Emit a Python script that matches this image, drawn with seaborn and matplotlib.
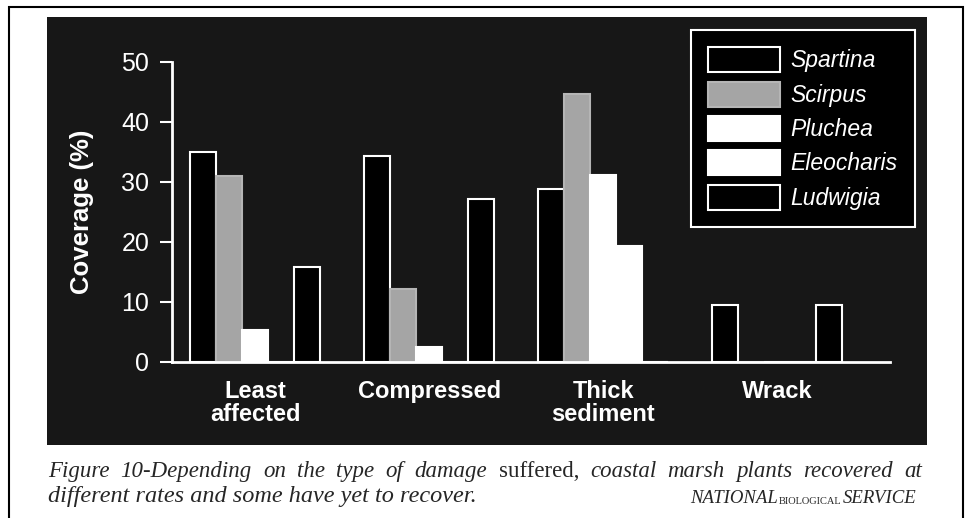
import pandas as pd
import seaborn as sns
import matplotlib.pyplot as plt
from matplotlib.patches import Rectangle, Patch

# values (coverage, %)
damage = ["Least\naffected", "Compressed", "Thick\nsediment", "Wrack"]
species = ["Spartina", "Scirpus", "Pluchea", "Eleocharis", "Ludwigia"]
spartina = [35.0, 34.3, 28.7, 9.5]
scirpus = [30.9, 12.1, 44.6, 0.0]
pluchea = [5.2, 2.4, 31.1, 0.0]
eleocharis = [0.0, 0.0, 19.2, 0.0]
ludwigia = [15.7, 27.1, 0.0, 9.4]

caption1 = [("Figure 10-Depending on the type of damage", "italic"),
            ("suffered,", "normal"),
            ("coastal marsh plants recovered at", "italic")]
caption2 = "different rates and some have yet to recover."

df = pd.DataFrame({"damage": damage, "Spartina": spartina, "Scirpus": scirpus,
                   "Pluchea": pluchea, "Eleocharis": eleocharis, "Ludwigia": ludwigia})
df = df.melt(id_vars="damage", var_name="species", value_name="coverage")

face = {"Spartina": "black", "Scirpus": "#a5a5a5", "Pluchea": "white",
        "Eleocharis": "white", "Ludwigia": "black"}
edge = {"Spartina": "white", "Scirpus": "#b5b5b5", "Pluchea": "white",
        "Eleocharis": "white", "Ludwigia": "white"}

sns.set_style("white")
plt.rcParams["font.family"] = ["Liberation Sans", "DejaVu Sans"]

fig = plt.figure(figsize=(9.7, 5.18), dpi=100)
W, H = 970, 518

# dark panel behind the chart + thin outer frame
fig.add_artist(Rectangle((47 / W, 1 - 445 / H), 880 / W, 428 / H, transform=fig.transFigure,
                         facecolor="#171717", edgecolor="none", zorder=-2))
fig.add_artist(Rectangle((9.5 / W, -0.02), 953.5 / W, 1.02 - 7 / H, transform=fig.transFigure,
                         facecolor="none", edgecolor="black", linewidth=1.5, zorder=-1))

ax = fig.add_axes([171.5 / W, 1 - 361.7 / H, (890 - 171.5) / W, 300 / H])
ax.set_facecolor("none")

sns.barplot(data=df, x="damage", y="coverage", hue="species", hue_order=species,
            palette=face, saturation=1, width=0.75, errorbar=None, legend=False, ax=ax)
for cont, sp in zip(ax.containers, species):
    for bar in cont:
        bar.set_edgecolor(edge[sp])
        bar.set_linewidth(1.5)

ax.set_xlim(-0.481, 3.648)
ax.set_ylim(0, 50)
ax.set_yticks([0, 10, 20, 30, 40, 50])
sns.despine(ax=ax)
for s in ["left", "bottom"]:
    ax.spines[s].set_color("white")
    ax.spines[s].set_linewidth(2)

ax.tick_params(axis="y", colors="white", labelsize=18, length=9, width=1.5, pad=7, left=True)
ax.tick_params(axis="x", length=0, pad=13, labelsize=17, labelcolor="white")
for t in ax.get_xticklabels():
    t.set_fontweight("bold")
    t.set_linespacing(1.0)
ax.set_xlabel("")
ax.set_ylabel("Coverage (%)", color="white", fontsize=18.5, fontweight="bold", labelpad=20)

handles = [Patch(facecolor=face[s], edgecolor=edge[s], linewidth=1.5) for s in species]
leg = fig.legend(handles, species, loc="upper right", bbox_to_anchor=(915 / W, 1 - 30 / H),
                 borderaxespad=0, frameon=True, fancybox=False, facecolor="black",
                 edgecolor="white", framealpha=1,
                 prop=dict(family="Liberation Sans", style="italic", size=16.5), labelcolor="white",
                 handlelength=3.14, handleheight=1.3, handletextpad=0.48, labelspacing=0.4,
                 borderpad=0.75)
leg.get_frame().set_linewidth(1.5)

# caption: first line justified word by word between x=48 and x=922
cap = dict(family="Liberation Serif", size=16.5)
y1, y2 = 1 - 477 / H, 1 - 502 / H
r = fig.canvas.get_renderer()
words = [(w, st) for txt, st in caption1 for w in txt.split()]
arts = [fig.text(0, y1, w, style=st, va="baseline", **cap) for w, st in words]
widths = [a.get_window_extent(r).width for a in arts]
gap = (922 - 48 - sum(widths)) / (len(arts) - 1)
x = 48
for a, wd in zip(arts, widths):
    a.set_x(x / W)
    x += wd + gap

fig.text(48 / W, y2, caption2, style="italic", va="baseline",
         family="Liberation Serif", size=17.5)
ts = fig.text(917 / W, 1 - 503 / H, "SERVICE", style="italic", ha="right", va="baseline",
              family="Liberation Serif", size=13.5)
tb = ax.annotate("BIOLOGICAL", xy=(0, 0), xycoords=ts, xytext=(-1, 1), textcoords="offset points",
                 ha="right", va="bottom", family="Liberation Serif", size=7.5, annotation_clip=False)
ax.annotate("NATIONAL", xy=(0, 0), xycoords=tb, xytext=(-1, -1), textcoords="offset points",
            ha="right", va="bottom", style="italic", family="Liberation Serif", size=13.5,
            annotation_clip=False)

fig.savefig("out.png", dpi=100, facecolor="white")
